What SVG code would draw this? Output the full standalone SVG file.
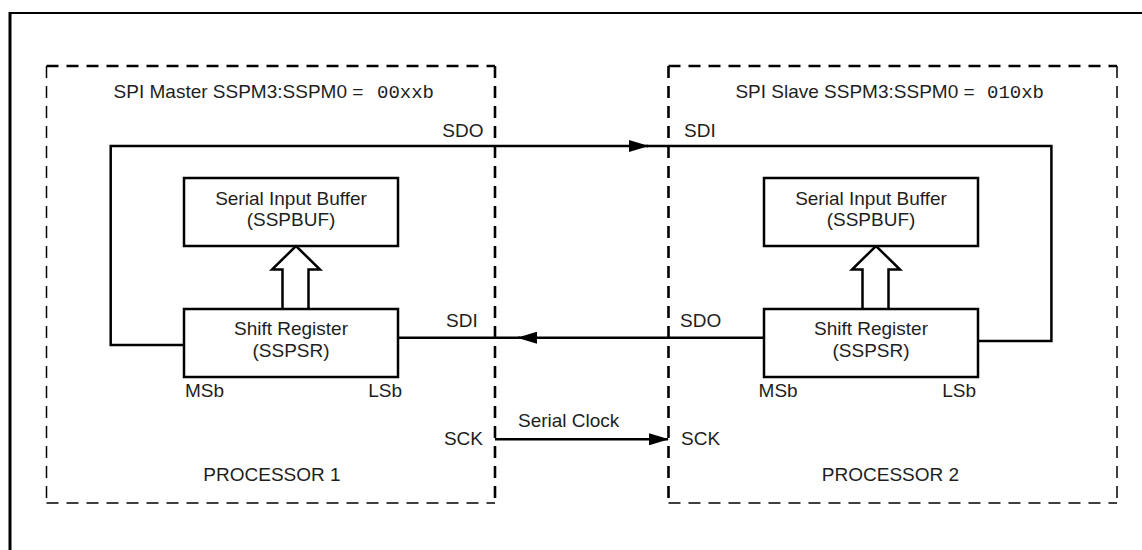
<svg xmlns="http://www.w3.org/2000/svg" width="1142" height="550" viewBox="0 0 1142 550">
  <style>
    .lbl { font-family: "Liberation Sans", Arial, sans-serif; font-size: 19px; fill: #1e1e1e; }
    .mono { font-family: "Liberation Mono", "Courier New", monospace; font-size: 19px; fill: #1e1e1e; }
    .mid { text-anchor: middle; }
    .end { text-anchor: end; }
    .box { fill: #ffffff; stroke: #000; stroke-width: 2.5; }
    .wire { fill: none; stroke: #000; stroke-width: 2.5; }
    .dashT { stroke: #000; stroke-width: 2.6; stroke-dasharray: 12 8; fill: none; }
    .dashN { stroke: #000; stroke-width: 1.5; stroke-dasharray: 12 8; fill: none; }
    .frame { stroke: #000; fill: none; }
  </style>
  <defs>
    <marker id="arrow" markerUnits="userSpaceOnUse" markerWidth="20" markerHeight="12" refX="19" refY="6" orient="auto">
      <path d="M0,0 L20,6 L0,12 Z" fill="#000"/>
    </marker>
  </defs>

  <rect width="1142" height="550" fill="#ffffff"/>

  <!-- outer frame (top and left edges) -->
  <line class="frame" x1="10" y1="13" x2="1142" y2="13" stroke-width="2"/>
  <line class="frame" x1="10" y1="12" x2="10" y2="550" stroke-width="3"/>

  <!-- processor 1 boundary -->
  <g id="processor1">
    <line class="dashT" x1="46.5" y1="66" x2="495" y2="66"/>
    <line class="dashT" x1="495" y1="66" x2="495" y2="503"/>
    <line class="dashN" x1="46.5" y1="66" x2="46.5" y2="503"/>
    <line class="dashN" x1="46.5" y1="503" x2="495" y2="503"/>
    <text class="lbl" x="113.6" y="98">SPI Master SSPM3:SSPM0 = <tspan class="mono" x="377">00xxb</tspan></text>
    <text class="lbl mid" x="272" y="481">PROCESSOR 1</text>
    <text class="lbl end" x="483.5" y="137">SDO</text>
    <text class="lbl" x="446" y="327">SDI</text>
    <text class="lbl end" x="483" y="445">SCK</text>
  </g>

  <!-- processor 2 boundary -->
  <g id="processor2">
    <line class="dashT" x1="668.5" y1="66" x2="1117" y2="66"/>
    <line class="dashT" x1="668.5" y1="66" x2="668.5" y2="503"/>
    <line class="dashN" x1="1117" y1="66" x2="1117" y2="503"/>
    <line class="dashN" x1="668.5" y1="503" x2="1117" y2="503"/>
    <text class="lbl" x="735.4" y="98">SPI Slave SSPM3:SSPM0 = <tspan class="mono" x="987">010xb</tspan></text>
    <text class="lbl mid" x="890.5" y="481">PROCESSOR 2</text>
    <text class="lbl" x="684" y="137">SDI</text>
    <text class="lbl" x="680" y="327">SDO</text>
    <text class="lbl" x="681" y="445">SCK</text>
  </g>

  <!-- connectors -->
  <g id="connectors">
    <!-- SDO (master) to SDI (slave), looping over the top -->
    <path class="wire" d="M184,345 H110.7 V146 H648" marker-end="url(#arrow)"/>
    <path class="wire" d="M646,146 H1051.4 V341 H979"/>
    <!-- SDO (slave) to SDI (master) -->
    <path class="wire" d="M764,337.7 H518" marker-end="url(#arrow)"/>
    <path class="wire" d="M520,337.7 H398"/>
    <!-- serial clock -->
    <path class="wire" d="M495,439.3 H668" marker-end="url(#arrow)"/>
    <text class="lbl" x="518" y="427">Serial Clock</text>
    <!-- parallel transfer arrows: shift register to buffer -->
    <path class="wire" fill="#ffffff" d="M282.5,309 V269.5 H272 L296,246 L320,269.5 H308.5 V309"/>
    <path class="wire" fill="#ffffff" d="M862.5,309 V269.5 H852 L876,246 L900,269.5 H888.5 V309"/>
  </g>

  <!-- master blocks -->
  <g id="buffer1">
    <rect class="box" x="184" y="178" width="214" height="68"/>
    <text class="lbl mid" x="291" y="205">Serial Input Buffer</text>
    <text class="lbl mid" x="291" y="226">(SSPBUF)</text>
  </g>
  <g id="shiftreg1">
    <rect class="box" x="184" y="309" width="214" height="68"/>
    <text class="lbl mid" x="291" y="335">Shift Register</text>
    <text class="lbl mid" x="291" y="357">(SSPSR)</text>
    <text class="lbl" x="185" y="397">MSb</text>
    <text class="lbl end" x="402" y="397">LSb</text>
  </g>

  <!-- slave blocks -->
  <g id="buffer2">
    <rect class="box" x="764" y="178" width="214" height="68"/>
    <text class="lbl mid" x="871" y="205">Serial Input Buffer</text>
    <text class="lbl mid" x="871" y="226">(SSPBUF)</text>
  </g>
  <g id="shiftreg2">
    <rect class="box" x="764" y="309" width="214" height="68"/>
    <text class="lbl mid" x="871" y="335">Shift Register</text>
    <text class="lbl mid" x="871" y="357">(SSPSR)</text>
    <text class="lbl" x="758.6" y="397">MSb</text>
    <text class="lbl end" x="976" y="397">LSb</text>
  </g>
</svg>
